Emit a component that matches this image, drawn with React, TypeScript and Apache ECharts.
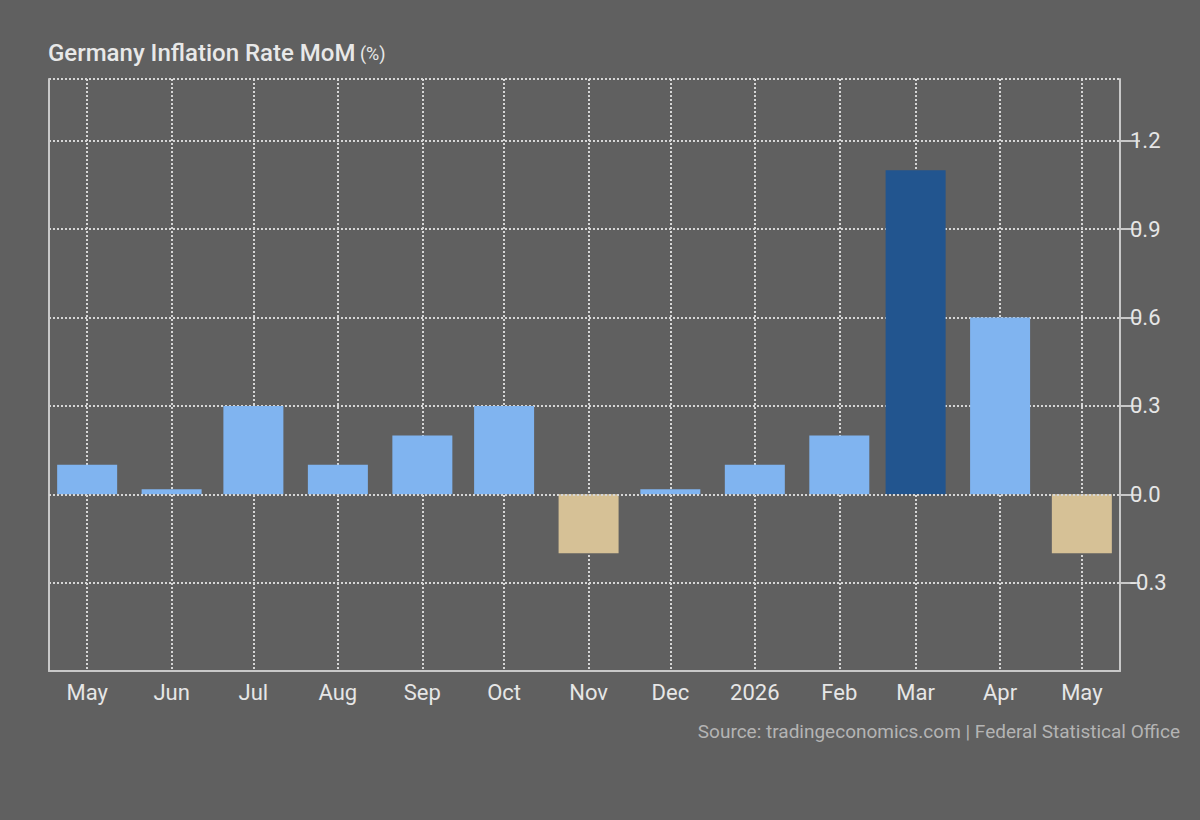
import React, { useEffect, useRef } from "react";
import * as echarts from "echarts";

const months = [
  "2025-05-01", "2025-06-01", "2025-07-01", "2025-08-01", "2025-09-01", "2025-10-01",
  "2025-11-01", "2025-12-01", "2026-01-01", "2026-02-01", "2026-03-01", "2026-04-01", "2026-05-01",
];
const values = [0.1, 0.0, 0.3, 0.1, 0.2, 0.3, -0.2, 0.0, 0.1, 0.2, 1.1, 0.6, -0.2];
const highlightIndex = 10;
const monthNames = ["Jan", "Feb", "Mar", "Apr", "May", "Jun", "Jul", "Aug", "Sep", "Oct", "Nov", "Dec"];
const yTicks = [-0.6, -0.3, 0.0, 0.3, 0.6, 0.9, 1.2, 1.41];

const BG = "#606060";
const LIGHT = "#80b4f0";
const DARK = "#22558f";
const NEG = "#d6c196";
const GRID = "#d6d6d6";
const AXIS = "#c8c8c8";

export default function App() {
  const ref = useRef<HTMLDivElement>(null);
  useEffect(() => {
    document.body.style.margin = "0";
    const chart = echarts.init(ref.current!, null, { renderer: "svg" });
    const day = 86400000;
    const gridLeft = 49;
    const gridRight = 80;
    const barWidth = 60;
    const plotWidth = 1200 - gridLeft - gridRight;
    // desired visible time range; ECharts widens a bar base axis by half a bar on each side,
    // so shrink the requested range accordingly
    const wantMin = Date.UTC(2025, 3, 17);
    const wantMax = Date.UTC(2026, 4, 15);
    const shrink = ((wantMax - wantMin) * (barWidth / 2)) / plotWidth;
    const data = months.map((m, i) => {
      const t = Date.parse(m + "T00:00:00Z");
      const v = values[i];
      const color = i === highlightIndex ? DARK : v < 0 ? NEG : LIGHT;
      return { value: [t, v], itemStyle: { color } };
    });
    const fmtY = (v: number) => (Math.abs(v) < 1e-9 ? "0.0" : v.toFixed(1));
    const splitColors = yTicks.map((v, i) =>
      Math.abs(v) < 1e-9 || i === 0 ? "rgba(0,0,0,0)" : GRID
    );
    chart.setOption({
      animation: false,
      useUTC: true,
      backgroundColor: BG,
      textStyle: { fontFamily: "Roboto" },
      title: [
        {
          text: "{a|Germany Inflation Rate MoM} {b|(%)}",
          left: 48,
          top: 41,
          padding: 0,
          textStyle: {
            rich: {
              a: { fontSize: 24, fontWeight: 500, color: "#e8e8e8", fontFamily: "Roboto" },
              b: { fontSize: 18, fontWeight: "normal", color: "#e8e8e8", fontFamily: "Roboto" },
            },
          },
        },
        {
          text: "Source: tradingeconomics.com | Federal Statistical Office",
          right: 20,
          top: 722,
          padding: 0,
          textStyle: { fontSize: 19, fontWeight: "normal", color: "#b4b4b4", fontFamily: "Roboto" },
        },
      ],
      grid: { left: gridLeft, right: gridRight, top: 79, bottom: 149, containLabel: false },
      xAxis: {
        type: "time",
        min: wantMin + shrink,
        max: wantMax - shrink,
        minInterval: 30 * day,
        maxInterval: 30 * day,
        axisLine: { show: true, onZero: false, lineStyle: { color: AXIS, width: 2 } },
        axisTick: { show: false },
        splitLine: { show: true, lineStyle: { color: GRID, type: [2, 2], width: 2 } },
        axisLabel: {
          color: "#e6e6e6",
          fontSize: 22,
          margin: 10,
          hideOverlap: false,
          formatter: (val: number) => {
            const d = new Date(val);
            const m = d.getUTCMonth();
            return m === 0 ? String(d.getUTCFullYear()) : monthNames[m];
          },
        },
      },
      yAxis: [
        {
          type: "value",
          position: "right",
          min: yTicks[0],
          max: yTicks[yTicks.length - 1],
          interval: 0.3,
          axisLine: { show: true, lineStyle: { color: AXIS, width: 2 } },
          axisTick: { show: true, length: 20, lineStyle: { color: AXIS, width: 2 } },
          splitLine: { show: true, lineStyle: { color: splitColors, type: [2, 2], width: 2 } },
          axisLabel: {
            color: "#e6e6e6",
            fontSize: 22,
            margin: 10,
            padding: [0, 0, 5, 0],
            showMinLabel: false,
            showMaxLabel: false,
            formatter: fmtY,
          },
        },
        {
          type: "value",
          position: "left",
          min: yTicks[0],
          max: yTicks[yTicks.length - 1],
          interval: 0.3,
          axisLine: { show: true, lineStyle: { color: AXIS, width: 2 } },
          axisTick: { show: false },
          splitLine: { show: false },
          axisLabel: { show: false },
        },
      ],
      series: [
        {
          type: "bar",
          yAxisIndex: 0,
          barWidth,
          barMinHeight: 5,
          data,
          markLine: {
            silent: true,
            symbol: "none",
            label: { show: false },
            lineStyle: { color: GRID, type: [2, 2], width: 2 },
            data: [{ yAxis: 0 }],
          },
        },
      ],
    });
    return () => chart.dispose();
  }, []);
  return <div ref={ref} style={{ width: 1200, height: 820 }} />;
}
